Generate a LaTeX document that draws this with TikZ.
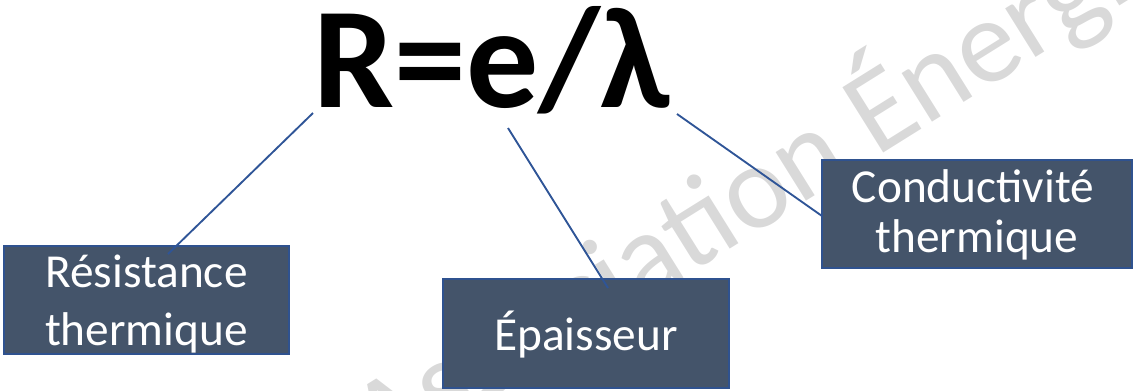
\documentclass[tikz,border=0pt]{standalone}
\usepackage{fontspec}
\setmainfont{Carlito}
\definecolor{boxfill}{HTML}{44546A}
\definecolor{boxedge}{HTML}{2F528F}
\definecolor{linkcol}{HTML}{2F5597}
\definecolor{wmark}{HTML}{D9D9D9}
\tikzset{
  box/.style={draw=boxedge, line width=0.9pt, fill=boxfill, inner sep=0pt, minimum width=#1},
  lbl/.style={text=white, inner sep=0pt, anchor=base, font=\fontsize{35.5pt}{42pt}\selectfont},
  link/.style={draw=linkcol, line width=1.4pt},
  title/.style={inner sep=0pt, anchor=base, font=\fontsize{108pt}{120pt}\selectfont\bfseries},
  wm/.style={text=wmark, inner sep=0pt, anchor=base west, rotate=32, font=\fontsize{90pt}{100pt}\selectfont}
}
\begin{document}
\begin{tikzpicture}[x=0.75pt,y=-0.75pt]
\useasboundingbox (0,0) rectangle (1134,390);
\begin{scope}
\clip (0,0) rectangle (1134,390);
\node[wm] (wmtext) at (383,466) {Association Énergie};
\end{scope}
% title
\node[title] (formula) at (492,107) {R=e/λ};
% boxes
\node[box=285*0.75pt, minimum height=108*0.75pt] (b1) at (146.5,300) {};
\node[box=286*0.75pt, minimum height=109*0.75pt] (b2) at (586,333.5) {};
\node[box=310*0.75pt, minimum height=108*0.75pt] (b3) at (977,214) {};
% labels
\node[lbl] (t1a) at (146.5,287) {Résistance};
\node[lbl] (t1b) at (146.5,345) {thermique};
\node[lbl] (t2) at (586,350) {Épaisseur};
\node[lbl] (t3a) at (973,202) {Conductivité};
\node[lbl] (t3b) at (977,252) {thermique};
% connector ends
\coordinate (r1) at (313,113);
\coordinate (e1) at (168,254);
\coordinate (r2) at (508,128);
\coordinate (e2) at (608,288);
\coordinate (r3) at (677,114);
\coordinate (e3) at (822,216);
\draw[link] (r1) -- (e1);
\draw[link] (r2) -- (e2);
\draw[link] (r3) -- (e3);
\end{tikzpicture}
\end{document}
